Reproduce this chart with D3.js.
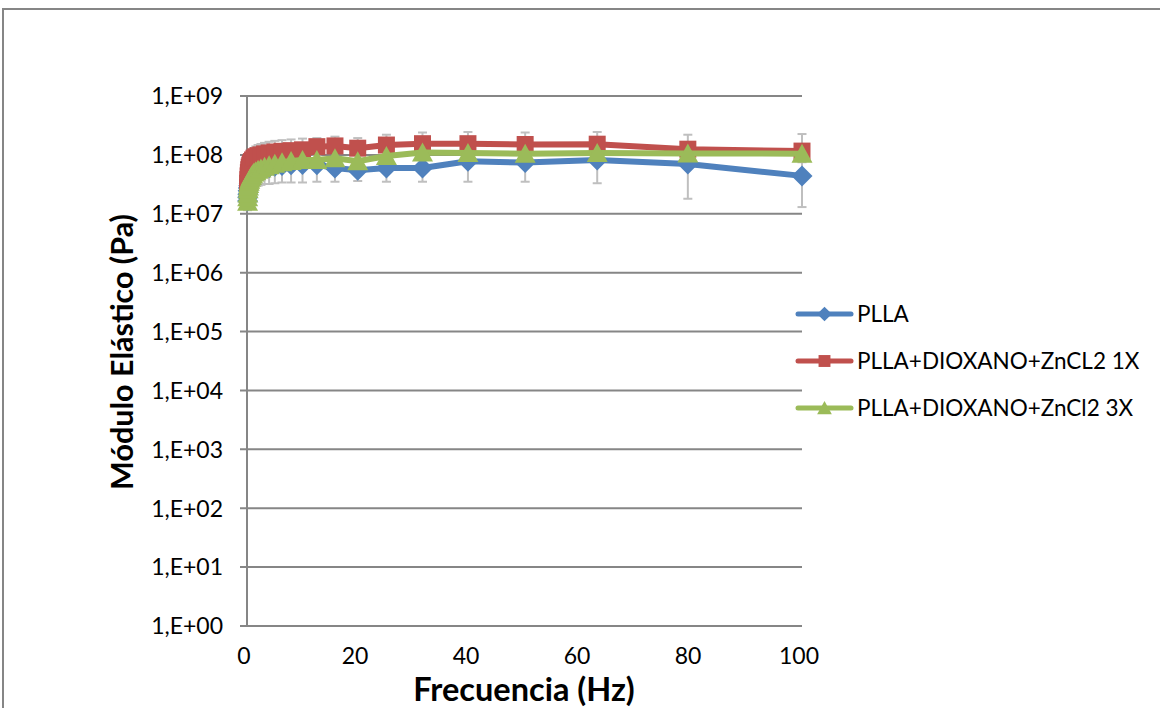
<!DOCTYPE html>
<html>
<head>
<meta charset="utf-8">
<script src="https://cdn.jsdelivr.net/npm/d3@7"></script>
<style>
  body { margin: 0; background: #fff; }
  svg { display: block; }
  text { font-family: Lato, "Open Sans", sans-serif; fill: #000; }
</style>
</head>
<body>
<svg width="1160" height="708"></svg>
<script>
// frequency sweep (Hz)
const freq = [0.1, 0.1259, 0.1585, 0.1995, 0.2512, 0.3162, 0.3981, 0.5012, 0.631, 0.7943,
  1, 1.259, 1.585, 1.995, 2.512, 3.162, 3.981, 5.012, 6.31, 7.943,
  10, 12.59, 15.85, 19.95, 25.12, 31.62, 39.81, 50.12, 63.1, 79.43, 100]

// storage modulus (Pa)
const plla = [1.65e7, 1.9e7, 2.15e7, 2.45e7, 2.75e7, 3.0e7, 3.3e7, 3.55e7, 3.85e7, 4.1e7,
  4.4e7, 4.6e7, 4.9e7, 5.2e7, 5.5e7, 5.8e7, 6.1e7, 6.4e7, 6.6e7, 6.8e7,
  6.9e7, 6.8e7, 6.0e7, 5.5e7, 6.0e7, 6.0e7, 7.8e7, 7.4e7, 8.2e7, 7.0e7, 4.4e7]
const pllaErr = [5e6, 6e6, 7e6, 8e6, 9e6, 1.0e7, 1.1e7, 1.2e7, 1.3e7, 1.4e7,
  1.5e7, 1.6e7, 1.8e7, 2.2e7, 2.4e7, 2.6e7, 2.9e7, 3.1e7, 3.2e7, 3.4e7,
  3.5e7, 3.3e7, 2.5e7, 1.9e7, 2.5e7, 2.5e7, 4.3e7, 3.9e7, 4.9e7, 5.2e7, 3.1e7]

const zn1 = [2.8e7, 3.3e7, 3.8e7, 4.4e7, 5.0e7, 5.6e7, 6.2e7, 6.7e7, 7.2e7, 7.7e7,
  8.2e7, 8.8e7, 9.3e7, 9.7e7, 1.0e8, 1.04e8, 1.08e8, 1.12e8, 1.15e8, 1.18e8,
  1.22e8, 1.38e8, 1.42e8, 1.3e8, 1.47e8, 1.55e8, 1.55e8, 1.5e8, 1.52e8, 1.25e8, 1.16e8]
const zn1Err = [1.0e7, 1.2e7, 1.5e7, 1.8e7, 2.0e7, 2.3e7, 2.6e7, 2.9e7, 3.2e7, 3.5e7,
  3.8e7, 4.2e7, 4.6e7, 5.0e7, 5.3e7, 5.6e7, 5.9e7, 6.1e7, 6.3e7, 6.5e7,
  6.7e7, 5.5e7, 6.2e7, 6.3e7, 7.3e7, 8.5e7, 9.0e7, 9.0e7, 9.3e7, 9.5e7, 1.1e8]

const zn3 = [1.6e7, 1.9e7, 2.2e7, 2.6e7, 2.9e7, 3.2e7, 3.5e7, 3.8e7, 4.1e7, 4.4e7,
  4.7e7, 5.0e7, 5.3e7, 5.6e7, 5.9e7, 6.3e7, 6.7e7, 7.1e7, 7.5e7, 7.9e7,
  8.2e7, 8.2e7, 8.8e7, 7.8e7, 9.6e7, 1.1e8, 1.08e8, 1.05e8, 1.08e8, 1.06e8, 1.05e8]

const seriesNames = ["PLLA", "PLLA+DIOXANO+ZnCL2 1X", "PLLA+DIOXANO+ZnCl2 3X"]
const xTicks = [0, 20, 40, 60, 80, 100]
const yTicks = [1e0, 1e1, 1e2, 1e3, 1e4, 1e5, 1e6, 1e7, 1e8, 1e9]

const svg = d3.select("svg")
const gridColor = "#868686"

const x = d3.scaleLinear().domain([0, 100]).range([247, 802])
const y = d3.scaleLog().domain([1, 1e9]).range([626, 96])

// outer chart border
svg.append("path")
  .attr("d", "M3,708 V9 H1160")
  .attr("fill", "none")
  .attr("stroke", gridColor)
  .attr("stroke-width", 2)

// horizontal grid lines + left ticks
svg.append("g")
  .selectAll("line")
  .data(yTicks)
  .enter()
  .append("line")
  .attr("x1", 240)
  .attr("x2", 802)
  .attr("y1", d => y(d))
  .attr("y2", d => y(d))
  .attr("stroke", gridColor)
  .attr("stroke-width", 2)

const fmtExp = d => "1,E+" + String(Math.round(Math.log10(d))).padStart(2, "0")

svg.append("g")
  .selectAll("text")
  .data(yTicks)
  .enter()
  .append("text")
  .attr("x", 223)
  .attr("y", d => y(d))
  .attr("dy", "0.36em")
  .attr("text-anchor", "end")
  .style("font-size", "23px")
  .text(fmtExp)

// y axis line
svg.append("line")
  .attr("x1", x(0)).attr("x2", x(0))
  .attr("y1", y(1e9)).attr("y2", y(1))
  .attr("stroke", gridColor)
  .attr("stroke-width", 2)

svg.append("g")
  .selectAll("text")
  .data(xTicks)
  .enter()
  .append("text")
  .attr("x", d => x(d) - 3)
  .attr("y", 664)
  .attr("text-anchor", "middle")
  .style("font-size", "23px")
  .text(d => d)

// axis titles
svg.append("text")
  .attr("x", 524)
  .attr("y", 700.5)
  .attr("text-anchor", "middle")
  .style("font-size", "32.5px")
  .style("font-weight", "bold")
  .text("Frecuencia (Hz)")

svg.append("text")
  .attr("transform", "translate(133,352) rotate(-90)")
  .attr("text-anchor", "middle")
  .style("font-size", "30.5px")
  .style("font-weight", "bold")
  .text("Módulo Elástico (Pa)")

// error bars (drawn under the series)
const errColor = "#BFBFBF"
const capW = 9
const errBars = [
  { lo: plla.map((v, i) => v - pllaErr[i]), hi: plla.map((v, i) => v + pllaErr[i]) },
  { lo: zn1, hi: zn1.map((v, i) => v + zn1Err[i]), plusOnly: true }
]
const errG = svg.append("g")
errBars.forEach(s => {
  const g = errG.selectAll(null)
    .data(freq.map((f, i) => ({ f, lo: s.lo[i], hi: s.hi[i] })))
    .enter()
    .append("g")
  g.append("line")
    .attr("x1", d => x(d.f)).attr("x2", d => x(d.f))
    .attr("y1", d => y(d.lo)).attr("y2", d => y(d.hi))
    .attr("stroke", errColor).attr("stroke-width", 2)
  g.append("line")
    .attr("x1", d => x(d.f) - capW / 2).attr("x2", d => x(d.f) + capW / 2)
    .attr("y1", d => y(d.hi)).attr("y2", d => y(d.hi))
    .attr("stroke", errColor).attr("stroke-width", 2)
  if (!s.plusOnly) {
    g.append("line")
      .attr("x1", d => x(d.f) - capW / 2).attr("x2", d => x(d.f) + capW / 2)
      .attr("y1", d => y(d.lo)).attr("y2", d => y(d.lo))
      .attr("stroke", errColor).attr("stroke-width", 2)
  }
})

// marker shapes
const diamond = s => `M0,${-s}L${s},0L0,${s}L${-s},0Z`
const square = s => `M${-s},${-s}H${s}V${s}H${-s}Z`
const triangle = s => `M0,${-s}L${s * 1.05},${s * 0.9}H${-s * 1.05}Z`

const series = [
  { name: seriesNames[0], values: plla, color: "#4F81BD", shape: diamond, size: 10.5 },
  { name: seriesNames[1], values: zn1, color: "#C0504D", shape: square, size: 8.5 },
  { name: seriesNames[2], values: zn3, color: "#9BBB59", shape: triangle, size: 10 }
]

const line = d3.line()
  .x(d => x(d.f))
  .y(d => y(d.v))

series.forEach(s => {
  const pts = s.values.map((v, i) => ({ f: freq[i], v }))
  const g = svg.append("g")
  g.append("path")
    .datum(pts)
    .attr("d", line)
    .attr("fill", "none")
    .attr("stroke", s.color)
    .attr("stroke-width", 6)
    .attr("stroke-linejoin", "round")
    .attr("stroke-linecap", "round")
  g.selectAll("path.marker")
    .data(pts)
    .enter()
    .append("path")
    .attr("class", "marker")
    .attr("transform", d => `translate(${x(d.f)},${y(d.v)})`)
    .attr("d", s.shape(s.size))
    .attr("fill", s.color)
})

// legend
const legend = svg.append("g")
  .selectAll("g")
  .data(series)
  .enter()
  .append("g")
  .attr("transform", (d, i) => `translate(798,${314 + i * 47})`)

legend.append("line")
  .attr("x1", 0).attr("x2", 53)
  .attr("stroke", d => d.color)
  .attr("stroke-width", 5)
  .attr("stroke-linecap", "round")
legend.append("path")
  .attr("transform", "translate(26.5,0)")
  .attr("d", d => d.shape(d.size * 0.7))
  .attr("fill", d => d.color)
legend.append("text")
  .attr("x", 59)
  .attr("dy", "0.36em")
  .style("font-size", "22.5px")
  .text(d => d.name)
</script>
</body>
</html>
